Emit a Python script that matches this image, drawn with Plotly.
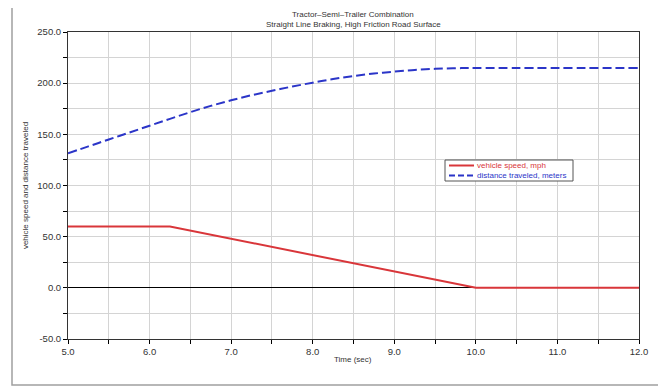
import plotly.graph_objects as go

# Data
time_speed = [5.0, 6.25, 10.0, 12.0]
speed_mph = [60.0, 60.0, 0.0, 0.0]

time_dist = [5.0, 5.25, 5.5, 5.75, 6.0, 6.25, 6.5, 6.75, 7.0, 7.25, 7.5, 7.75,
             8.0, 8.25, 8.5, 8.75, 9.0, 9.25, 9.5, 9.75, 10.0, 12.0]
dist_m = [131.5, 138.2, 145.0, 151.7, 158.4, 165.1, 171.7, 177.8, 183.3, 188.2,
          192.5, 196.7, 200.5, 204.0, 207.0, 209.4, 211.3, 212.9, 214.0, 214.6,
          214.8, 214.8]

x_ticks = [5.0, 6.0, 7.0, 8.0, 9.0, 10.0, 11.0, 12.0]
y_ticks = [-50.0, 0.0, 50.0, 100.0, 150.0, 200.0, 250.0]

title_lines = ["Tractor\u2013Semi\u2013Trailer Combination",
               "Straight Line Braking, High Friction Road Surface"]
legend_names = ["vehicle speed, mph", "distance traveled, meters"]
x_title = "Time (sec)"
y_title = "vehicle speed and distance traveled"

RED = "#d9363a"
BLUE = "#2b35c8"
TXT = "#333333"
SANS = "Liberation Sans, Arial, sans-serif"

fig = go.Figure()
fig.add_trace(go.Scatter(
    x=time_speed, y=speed_mph, mode="lines", name=legend_names[0],
    line=dict(color=RED, width=2), showlegend=False))
fig.add_trace(go.Scatter(
    x=time_dist, y=dist_m, mode="lines", line_shape="spline", name=legend_names[1],
    line=dict(color=BLUE, width=2, dash="9px,4px"), showlegend=False))

# the page body has an 8px margin; size the figure so it fits the window
W, H = 658, 379
L, R, T, B = 60, 27, 24, 48
pw, ph = W - L - R, H - T - B

def px_x(p):  # window pixel -> paper x
    return (p - 8 - L) / pw

def px_y(p):  # window pixel -> paper y
    return (H - B - (p - 8)) / ph

fig.update_layout(
    width=W, height=H,
    margin=dict(l=L, r=R, t=T, b=B),
    paper_bgcolor="white", plot_bgcolor="white",
    font=dict(family=SANS, size=9.5, color=TXT),
    showlegend=False,
    xaxis=dict(range=[5, 12], tickvals=x_ticks, ticktext=[f"{v:.1f}" for v in x_ticks],
               ticks="outside", ticklen=4, tickcolor="#000000",
               showline=True, linecolor="#333333", linewidth=1, mirror=True,
               showgrid=True, gridcolor="#d4d4d4", gridwidth=1,
               minor=dict(dtick=0.5, tick0=5, ticks="outside", ticklen=4, tickcolor="#000000",
                          showgrid=True, gridcolor="#d4d4d4"),
               zeroline=False,
               tickfont=dict(size=9.5)),
    yaxis=dict(range=[-50, 250], tickvals=y_ticks, ticktext=[f"{v:.1f}" for v in y_ticks],
               ticks="outside", ticklen=4, tickcolor="#000000",
               showline=True, linecolor="#333333", linewidth=1, mirror=True,
               showgrid=True, gridcolor="#d4d4d4", gridwidth=1,
               minor=dict(dtick=25, tick0=0, ticks="outside", ticklen=4, tickcolor="#000000",
                          showgrid=True, gridcolor="#d4d4d4"),
               zeroline=True, zerolinecolor="#000000", zerolinewidth=1,
               title=dict(text=y_title, standoff=7,
                          font=dict(family=SANS, size=8, color=TXT)),
               tickfont=dict(size=9.5)),
)

# title (two tight lines)
for line, yw in zip(title_lines, [15, 24.5]):
    fig.add_annotation(text=line, xref="paper", yref="paper", x=px_x(353), y=px_y(yw),
                       xanchor="center", yanchor="middle", showarrow=False,
                       font=dict(family=SANS, size=8, color=TXT))

# x axis title
fig.add_annotation(text=x_title, xref="paper", yref="paper", x=px_x(353), y=px_y(359),
                   xanchor="center", yanchor="middle", showarrow=False,
                   font=dict(family=SANS, size=8, color=TXT))

# outer frame around the whole chart
fig.add_shape(type="rect", xref="paper", yref="paper",
              x0=px_x(12), x1=px_x(663), y0=px_y(385), y1=px_y(6),
              line=dict(color="#a0a0a0", width=1.5), fillcolor="rgba(0,0,0,0)", layer="below")

# legend box
fig.add_shape(type="rect", xref="paper", yref="paper",
              x0=px_x(445), x1=px_x(573), y0=px_y(181), y1=px_y(160),
              line=dict(color="#555555", width=1), fillcolor="white", layer="above")
legend_items = [(legend_names[0], RED, "solid", 165.5), (legend_names[1], BLUE, "6px,3px", 175.5)]
for name, col, dash, yw in legend_items:
    fig.add_shape(type="line", xref="paper", yref="paper",
                  x0=px_x(449), x1=px_x(474), y0=px_y(yw), y1=px_y(yw),
                  line=dict(color=col, width=2, dash=dash), layer="above")
    fig.add_annotation(text=name, xref="paper", yref="paper", x=px_x(475), y=px_y(yw),
                       xanchor="left", yanchor="middle", showarrow=False,
                       font=dict(family=SANS, size=8, color=col))

fig.write_html("out.html")
